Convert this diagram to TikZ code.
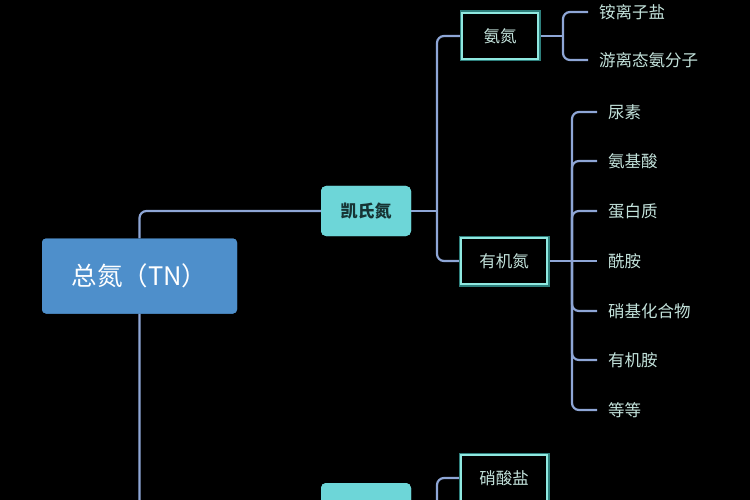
\documentclass[tikz,border=0pt]{standalone}
\usepackage{fontspec}
\newfontfamily\cjk{Noto Sans CJK SC}
\definecolor{bgc}{HTML}{000000}
\definecolor{rootfill}{HTML}{4E8FCB}
\definecolor{turq}{HTML}{6DD6D8}
\definecolor{turqline}{HTML}{8FE8E0}
\definecolor{glow}{HTML}{2E7F7C}
\definecolor{linec}{HTML}{8EA6D6}
\definecolor{leaftext}{HTML}{C3E2DB}
\definecolor{darktext}{HTML}{173434}
\begin{document}
\begin{tikzpicture}[x=1pt,y=-1pt,
  rootbox/.style={draw=none,fill=rootfill,rounded corners=4pt,minimum width=195pt,minimum height=75pt,
    text=white,font=\cjk\fontsize{25.5}{30}\selectfont,inner sep=0pt},
  kbox/.style={draw=none,fill=turq,rounded corners=5pt,minimum width=90pt,minimum height=50pt,
    text=darktext,font=\cjk\bfseries\fontsize{17}{20}\selectfont,inner sep=0pt},
  obox/.style={draw=turqline,line width=2pt,fill=black,minimum height=46pt,
    preaction={draw=glow,line width=5pt},
    text=leaftext,font=\cjk\fontsize{16.5}{20}\selectfont,inner sep=0pt},
  leaf/.style={anchor=west,text=leaftext,font=\cjk\fontsize{16.5}{20}\selectfont,inner xsep=11pt,inner ysep=0pt},
  conn/.style={draw=linec,line width=2.2pt,rounded corners=7pt}]
\fill[bgc] (0,0) rectangle (750,500);
\useasboundingbox (0,0) rectangle (750,500);
\begin{scope}
\clip (0,0) rectangle (750,500);
% nodes
\node[rootbox] (root) at (139.5,276) {总氮（TN）};
\node[kbox] (kai) at (366,211) {凯氏氮};
\node[kbox] (wuji) at (366,508) {};
\node[obox,minimum width=76pt] (anan) at (500,36) {氨氮};
\node[obox,minimum width=86pt] (youji) at (504,261) {有机氮};
\node[obox,minimum width=86pt] (xiao) at (504,478) {硝酸盐};
% leaves
\node[leaf] (l1) at (588,12) {铵离子盐};
\node[leaf] (l2) at (588,60) {游离态氨分子};
\node[leaf] (m1) at (597,112) {尿素};
\node[leaf] (m2) at (597,161) {氨基酸};
\node[leaf] (m3) at (597,211) {蛋白质};
\node[leaf] (m4) at (597,261) {酰胺};
\node[leaf] (m5) at (597,311) {硝基化合物};
\node[leaf] (m6) at (597,360) {有机胺};
\node[leaf] (m7) at (597,410) {等等};
% junctions
\coordinate (j1) at (437,211);
\coordinate (j2) at (572,261);
\coordinate (j3) at (563,36);
\coordinate (j4) at (437,508);
% connectors
\draw[conn] (root.north) |- (kai.west);
\draw[conn] (root.south) |- (wuji.west);
\draw[conn] (kai.east) -- (j1);
\draw[conn] (j1) |- (anan.west);
\draw[conn] (j1) |- (youji.west);
\draw[conn] (wuji.east) -- (j4);
\draw[conn] (j4) |- (xiao.west);
\draw[conn] (anan.east) -- (j3);
\draw[conn] (j3) |- (l1.west);
\draw[conn] (j3) |- (l2.west);
\draw[conn] (youji.east) -- (m4.west);
\draw[conn] (j2) |- (m1.west);
\draw[conn] (j2) |- (m2.west);
\draw[conn] (j2) |- (m3.west);
\draw[conn] (j2) |- (m5.west);
\draw[conn] (j2) |- (m6.west);
\draw[conn] (j2) |- (m7.west);
% redraw boxes over lines
\node[rootbox] at (root) {总氮（TN）};
\node[kbox] at (kai) {凯氏氮};
\node[kbox] at (wuji) {};
\node[obox,minimum width=76pt] at (anan) {氨氮};
\node[obox,minimum width=86pt] at (youji) {有机氮};
\node[obox,minimum width=86pt] at (xiao) {硝酸盐};
\end{scope}
\end{tikzpicture}
\end{document}
